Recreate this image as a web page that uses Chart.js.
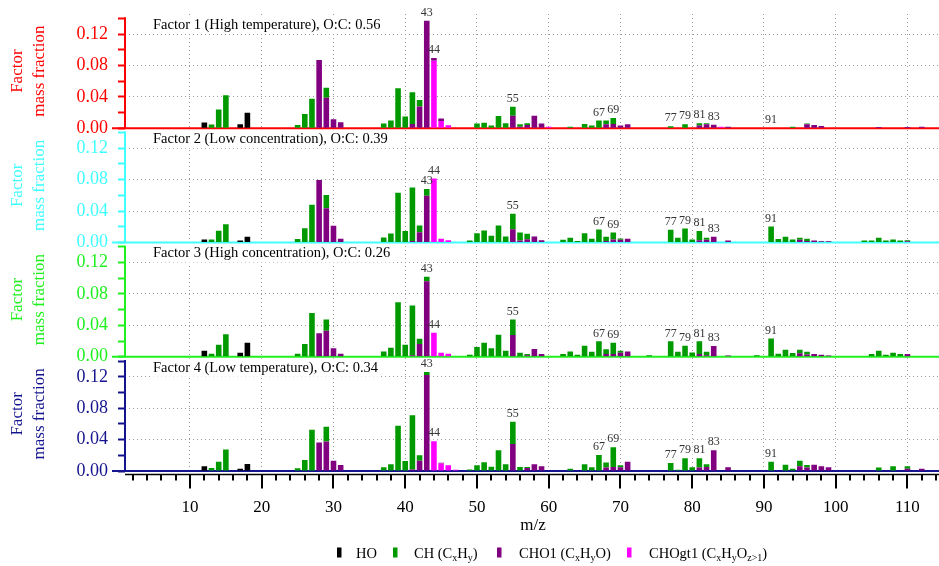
<!DOCTYPE html>
<html>
<head>
<meta charset="utf-8">
<script src="https://cdn.jsdelivr.net/npm/chart.js@4.4.0/dist/chart.umd.min.js"></script>
<style>
  html, body { margin: 0; padding: 0; background: #fff; }
  canvas { display: block; }
</style>
</head>
<body>
<canvas id="spec" width="939" height="566"></canvas>
<script>
// m/z ticks and y ticks
var xLabelled = [10, 20, 30, 40, 50, 60, 70, 80, 90, 100, 110];
var yTicks = [0, 0.02, 0.04, 0.06, 0.08, 0.10, 0.12, 0.14];
var yMajor = [0, 0.04, 0.08, 0.12];
var peakLabels = [43, 44, 55, 67, 69, 77, 79, 81, 83, 91];

// Factor 1 (High temperature) -- [m/z, mass fraction]
var f1HO = [[12, 0.0073], [17, 0.005], [18, 0.0196]];
var f1CH = [[13, 0.0047], [14, 0.024], [15, 0.042], [25, 0.004], [26, 0.018], [27, 0.0375], [29, 0.0125],
  [37, 0.006], [38, 0.010], [39, 0.051], [40, 0.015], [41, 0.0405], [42, 0.0083], [50, 0.006], [51, 0.007],
  [52, 0.0035], [53, 0.0155], [54, 0.0065], [55, 0.0115], [56, 0.003], [57, 0.0025], [63, 0.002], [65, 0.0055],
  [66, 0.0035], [67, 0.010], [68, 0.005], [69, 0.0075], [77, 0.0025], [79, 0.005], [81, 0.003], [82, 0.0015],
  [94, 0.002], [96, 0.001]];
var f1CHO1 = [[28, 0.0868], [29, 0.039], [30, 0.0115], [31, 0.0077], [41, 0.0055], [42, 0.0277], [43, 0.137],
  [44, 0.0035], [45, 0.003], [55, 0.016], [56, 0.002], [57, 0.004], [58, 0.016], [59, 0.006], [68, 0.005],
  [69, 0.0055], [70, 0.0035], [71, 0.005], [81, 0.0035], [82, 0.005], [83, 0.0045], [85, 0.002], [96, 0.005],
  [97, 0.004], [98, 0.003], [106, 0.0015], [110, 0.0015], [112, 0.002]];
var f1CHOgt1 = [[44, 0.086], [45, 0.0093], [46, 0.0038], [60, 0.002], [84, 0.002]];

// Factor 2 (Low concentration)
var f2HO = [[12, 0.0038], [17, 0.0026], [18, 0.0072]];
var f2CH = [[13, 0.0038], [14, 0.0149], [15, 0.0234], [25, 0.0043], [26, 0.0183], [27, 0.048], [29, 0.017],
  [37, 0.0064], [38, 0.0115], [39, 0.0635], [40, 0.0145], [41, 0.068], [42, 0.0085], [43, 0.0084], [49, 0.0026],
  [50, 0.0119], [51, 0.0153], [52, 0.0085], [53, 0.0217], [54, 0.0077], [55, 0.0196], [56, 0.0103], [57, 0.007],
  [62, 0.0034], [63, 0.006], [64, 0.002], [65, 0.0119], [66, 0.0047], [67, 0.0166], [68, 0.0052], [69, 0.009],
  [70, 0.0017], [77, 0.0162], [78, 0.006], [79, 0.0179], [80, 0.0038], [81, 0.0115], [82, 0.0026], [91, 0.0204],
  [92, 0.0043], [93, 0.0072], [94, 0.0038], [95, 0.0026], [96, 0.0027], [104, 0.0026], [105, 0.0026],
  [106, 0.006], [107, 0.0026], [108, 0.0038], [109, 0.0026], [110, 0.0015]];
var f2CHO1 = [[28, 0.0797], [29, 0.0435], [30, 0.0213], [31, 0.0047], [41, 0.002], [42, 0.0132], [43, 0.0596],
  [55, 0.017], [56, 0.0025], [57, 0.004], [58, 0.0077], [59, 0.003], [68, 0.002], [69, 0.0038], [70, 0.0034],
  [71, 0.0047], [81, 0.003], [82, 0.0034], [83, 0.0072], [85, 0.0026], [95, 0.0034], [96, 0.002], [97, 0.0026],
  [98, 0.0015], [99, 0.0015], [110, 0.0015]];
var f2CHOgt1 = [[44, 0.0814], [45, 0.0047], [46, 0.003]];

// Factor 3 (High concentration)
var f3HO = [[12, 0.0077], [17, 0.0051], [18, 0.0179]];
var f3CH = [[13, 0.0038], [14, 0.0153], [15, 0.0285], [25, 0.0038], [26, 0.0162], [27, 0.0558], [29, 0.0141],
  [37, 0.0068], [38, 0.0115], [39, 0.0694], [40, 0.0153], [41, 0.0632], [42, 0.0068], [43, 0.0055], [49, 0.0026],
  [50, 0.0124], [51, 0.0179], [52, 0.0107], [53, 0.0281], [54, 0.0077], [55, 0.0196], [56, 0.004], [57, 0.0015],
  [62, 0.0035], [63, 0.0068], [64, 0.0026], [65, 0.014], [66, 0.0064], [67, 0.0196], [68, 0.0059], [69, 0.0144],
  [70, 0.0026], [74, 0.002], [77, 0.0196], [78, 0.0064], [79, 0.014], [80, 0.0055], [81, 0.0161], [82, 0.0044],
  [89, 0.002], [91, 0.0234], [92, 0.0038], [93, 0.009], [94, 0.0047], [95, 0.0047], [96, 0.0034], [105, 0.0035],
  [106, 0.0077], [107, 0.0026], [108, 0.0051], [109, 0.0035]];
var f3CHO1 = [[28, 0.0298], [29, 0.0332], [30, 0.0107], [31, 0.0038], [41, 0.002], [42, 0.0162], [43, 0.0963],
  [55, 0.0277], [56, 0.001], [57, 0.002], [58, 0.0098], [59, 0.0035], [68, 0.0035], [69, 0.0035], [70, 0.0051],
  [71, 0.0068], [81, 0.0035], [82, 0.002], [83, 0.0136], [85, 0.0017], [95, 0.0043], [96, 0.003], [97, 0.0035],
  [98, 0.0026], [99, 0.0017], [110, 0.0035]];
var f3CHOgt1 = [[44, 0.0307], [45, 0.0051], [46, 0.0038]];

// Factor 4 (Low temperature)
var f4HO = [[12, 0.006], [17, 0.003], [18, 0.0089]];
var f4CH = [[13, 0.0038], [14, 0.0119], [15, 0.0273], [25, 0.0034], [26, 0.014], [27, 0.0524], [29, 0.0187],
  [37, 0.0047], [38, 0.0085], [39, 0.0575], [40, 0.0128], [41, 0.0691], [42, 0.0068], [43, 0.0038], [49, 0.002],
  [50, 0.0072], [51, 0.0111], [52, 0.0055], [53, 0.0264], [54, 0.0085], [55, 0.0281], [56, 0.0051], [57, 0.0013],
  [63, 0.003], [65, 0.0085], [66, 0.0047], [67, 0.0204], [68, 0.0064], [69, 0.0251], [70, 0.0025], [77, 0.0102],
  [78, 0.0015], [79, 0.0162], [80, 0.0047], [81, 0.0119], [82, 0.0034], [91, 0.0119], [93, 0.0081], [94, 0.003],
  [95, 0.0072], [96, 0.0034], [106, 0.0043], [108, 0.006], [110, 0.003]];
var f4CHO1 = [[28, 0.0362], [29, 0.0375], [30, 0.0132], [31, 0.0077], [41, 0.002], [42, 0.0132], [43, 0.1222],
  [45, 0.001], [55, 0.0345], [57, 0.0038], [58, 0.0085], [59, 0.006], [68, 0.0043], [69, 0.0051], [70, 0.0047],
  [71, 0.0119], [81, 0.0043], [82, 0.0051], [83, 0.0264], [85, 0.0047], [95, 0.006], [96, 0.0043], [97, 0.0081],
  [98, 0.006], [99, 0.0047], [110, 0.003], [112, 0.003]];
var f4CHOgt1 = [[44, 0.0379], [45, 0.0094], [46, 0.0072], [47, 0.0015]];

var FONT = '"Liberation Serif", "Times New Roman", serif';

var families = [
  { name: 'HO', color: '#000000' },
  { name: 'CHOgt1', color: '#ff00ff' },
  { name: 'CHO1', color: '#800080' },
  { name: 'CH', color: '#009a00' }
];

var panels = [
  { id: 'y1', color: '#ff0000', title: 'Factor 1 (High temperature), O:C: 0.56', sets: [f1HO, f1CHOgt1, f1CHO1, f1CH] },
  { id: 'y2', color: '#40ffff', title: 'Factor 2 (Low concentration), O:C: 0.39', sets: [f2HO, f2CHOgt1, f2CHO1, f2CH] },
  { id: 'y3', color: '#20f020', title: 'Factor 3 (High concentration), O:C: 0.26', sets: [f3HO, f3CHOgt1, f3CHO1, f3CH] },
  { id: 'y4', color: '#14148f', title: 'Factor 4 (Low temperature), O:C: 0.34', sets: [f4HO, f4CHOgt1, f4CHO1, f4CH] }
];

var datasets = [];
panels.forEach(function(p) {
  p.sets.forEach(function(arr, k) {
    datasets.push({
      label: p.id + ' ' + families[k].name,
      data: arr.map(function(d) { return { x: d[0], y: d[1] }; }),
      backgroundColor: families[k].color,
      borderWidth: 0,
      yAxisID: p.id,
      stack: p.id,
      grouped: false,
      barPercentage: 0.78,
      categoryPercentage: 1
    });
  });
});

function stackTotal(p, mz) {
  var t = 0;
  p.sets.forEach(function(arr) {
    arr.forEach(function(d) { if (d[0] === mz) t += d[1]; });
  });
  return t;
}

var scales = {
  x: {
    type: 'linear',
    min: 0.94,
    max: 114.4,
    offset: false,
    grid: {
      offset: false,
      color: function(c) { return (c.tick && c.tick.value % 10 === 0) ? '#9a9a9a' : 'rgba(0,0,0,0)'; },
      tickLength: 8,
      tickColor: 'rgba(0,0,0,0)'
    },
    border: { display: false, dash: [1, 3] },
    ticks: {
      autoSkip: false,
      maxRotation: 0,
      minRotation: 0,
      padding: 18,
      color: '#000',
      font: { family: FONT, size: 17 },
      callback: function(v) { return xLabelled.indexOf(v) >= 0 ? String(v) : ''; }
    },
    afterBuildTicks: function(s) {
      var t = [];
      for (var v = 2; v <= 114; v += 2) t.push({ value: v });
      s.ticks = t;
    },
    afterFit: function(s) {
      s.height = 95;
      s.paddingLeft = 0;
      s.paddingRight = 0;
    }
  }
};

panels.forEach(function(p, i) {
  scales[p.id] = {
    type: 'linear',
    position: 'left',
    stack: 'panels',
    stackWeight: 1,
    weight: 4 - i,
    stacked: true,
    min: 0,
    max: 0.1455,
    offset: false,
    grid: {
      color: function(c) { return (c.tick && c.tick.value > 0 && yMajor.indexOf(c.tick.value) >= 0) ? '#9a9a9a' : 'rgba(0,0,0,0)'; },
      tickLength: 7,
      tickWidth: 2,
      tickColor: p.color
    },
    border: { display: false, dash: [1, 3] },
    ticks: {
      autoSkip: false,
      padding: 10,
      color: p.color,
      font: { family: FONT, size: 18 },
      callback: function(v) { return yMajor.indexOf(v) >= 0 ? v.toFixed(2) : ''; }
    },
    afterBuildTicks: function(s) {
      s.ticks = yTicks.map(function(v) { return { value: v }; });
    },
    afterFit: function(s) {
      s.width = 125;
      s.paddingTop = 0;
      s.paddingBottom = 0;
    },
    title: {
      display: true,
      text: ['Factor', 'mass fraction'],
      color: p.color,
      font: { family: FONT, size: 17, lineHeight: 1.3 },
      padding: { top: 6, bottom: 0 }
    }
  };
});

var legendItems = [
  { color: '#000000', mx: 337, tx: 356, parts: [['HO', 0]] },
  { color: '#009a00', mx: 393, tx: 414, parts: [['CH (C', 0], ['x', 1], ['H', 0], ['y', 1], [')', 0]] },
  { color: '#800080', mx: 497, tx: 519, parts: [['CHO1 (C', 0], ['x', 1], ['H', 0], ['y', 1], ['O)', 0]] },
  { color: '#ff00ff', mx: 627, tx: 649, parts: [['CHOgt1 (C', 0], ['x', 1], ['H', 0], ['y', 1], ['O', 0], ['z>1', 1], [')', 0]] }
];

var extras = {
  id: 'extras',
  beforeDatasetsDraw: function(chart) {
    var ctx = chart.ctx, area = chart.chartArea, xs = chart.scales.x;
    ctx.save();
    panels.forEach(function(p) {
      var ys = chart.scales[p.id];
      var y0 = ys.getPixelForValue(0);
      ctx.strokeStyle = p.color;
      ctx.lineWidth = 2;
      ctx.beginPath();
      ctx.moveTo(area.left - 13, y0);
      ctx.lineTo(area.right, y0);
      ctx.stroke();
      ctx.beginPath();
      ctx.moveTo(area.left, y0);
      ctx.lineTo(area.left, ys.getPixelForValue(0.14) - 1);
      ctx.stroke();

      // white boxes behind peak labels
      ctx.font = '12px ' + FONT;
      ctx.fillStyle = '#fff';
      peakLabels.forEach(function(mz) {
        var x = xs.getPixelForValue(mz);
        var y = ys.getPixelForValue(stackTotal(p, mz)) - 2;
        var w = ctx.measureText(String(mz)).width;
        ctx.fillRect(x - w / 2 - 1, y - 11, w + 2, 11);
      });

      // panel title
      ctx.font = '14.5px ' + FONT;
      var tw = ctx.measureText(p.title).width;
      var ty = ys.top + 11;
      ctx.fillStyle = '#fff';
      ctx.fillRect(area.left + 25, ty - 9, tw + 6, 18);
      ctx.fillStyle = '#000';
      ctx.textBaseline = 'middle';
      ctx.textAlign = 'left';
      ctx.fillText(p.title, area.left + 28, ty);
    });
    ctx.restore();
  },
  afterDatasetsDraw: function(chart) {
    var ctx = chart.ctx, xs = chart.scales.x;
    ctx.save();
    ctx.font = '12px ' + FONT;
    ctx.fillStyle = '#333';
    ctx.textAlign = 'center';
    ctx.textBaseline = 'bottom';
    panels.forEach(function(p) {
      var ys = chart.scales[p.id];
      peakLabels.forEach(function(mz) {
        var x = xs.getPixelForValue(mz);
        var y = ys.getPixelForValue(stackTotal(p, mz)) - 2;
        ctx.fillText(String(mz), x, y);
      });
    });
    ctx.restore();
  },
  afterDraw: function(chart) {
    var ctx = chart.ctx, area = chart.chartArea, xs = chart.scales.x;
    ctx.save();
    // bottom m/z axis
    var ya = area.bottom + 3.5;
    ctx.strokeStyle = '#000';
    ctx.lineWidth = 1.5;
    ctx.beginPath();
    ctx.moveTo(area.left, ya);
    ctx.lineTo(area.right, ya);
    ctx.stroke();
    ctx.lineWidth = 2;
    for (var v = 2; v <= 114; v += 2) {
      var x = Math.round(xs.getPixelForValue(v));
      var len = (v % 10 === 0) ? 14 : 6;
      ctx.beginPath();
      ctx.moveTo(x, ya);
      ctx.lineTo(x, ya + len);
      ctx.stroke();
    }
    // axis title
    ctx.fillStyle = '#000';
    ctx.font = '17px ' + FONT;
    ctx.textAlign = 'center';
    ctx.textBaseline = 'middle';
    ctx.fillText('m/z', 533, 526);

    // legend
    ctx.textAlign = 'left';
    ctx.textBaseline = 'alphabetic';
    var base = 557.5;
    legendItems.forEach(function(it) {
      ctx.fillStyle = it.color;
      ctx.fillRect(it.mx, base - 10, 4.5, 10);
      ctx.fillStyle = '#000';
      var x = it.tx;
      it.parts.forEach(function(pt) {
        if (pt[1]) {
          ctx.font = '10px ' + FONT;
          ctx.fillText(pt[0], x, base + 3.5);
        } else {
          ctx.font = '14.5px ' + FONT;
          ctx.fillText(pt[0], x, base);
        }
        x += ctx.measureText(pt[0]).width;
      });
    });
    ctx.restore();
  }
};

new Chart(document.getElementById('spec'), {
  type: 'bar',
  data: { datasets: datasets },
  options: {
    responsive: false,
    animation: false,
    devicePixelRatio: 1,
    layout: { padding: { top: 14, right: 0, bottom: 0, left: 0 } },
    plugins: {
      legend: { display: false },
      tooltip: { enabled: false }
    },
    scales: scales
  },
  plugins: [extras]
});
</script>
</body>
</html>
